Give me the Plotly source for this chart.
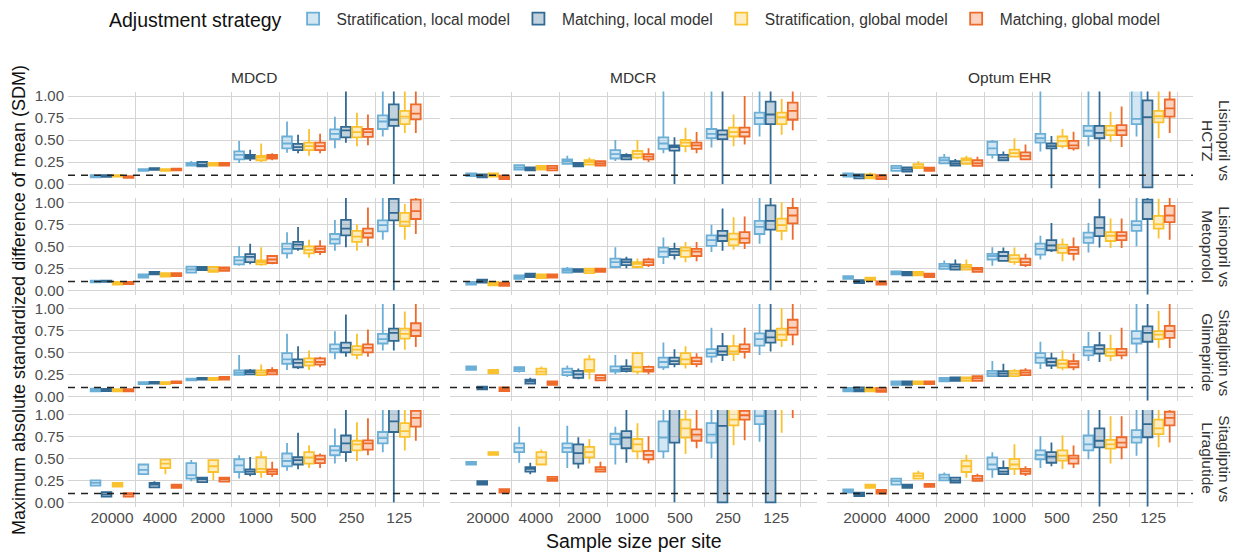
import plotly.graph_objects as go

# ---------------- data ----------------
CATEGORIES = ["20000", "4000", "2000", "1000", "500", "250", "125"]
DATABASES = ["MDCD", "MDCR", "Optum EHR"]
COMPARISONS = [("Lisinopril vs", "HCTZ"), ("Lisinopril vs", "Metoprolol"),
               ("Sitagliptin vs", "Glimepiride"), ("Sitagliptin vs", "Liraglutide")]
STRATEGIES = ["Stratification, local model", "Matching, local model",
              "Stratification, global model", "Matching, global model"]
REFERENCE_SDM = 0.1
Y_TICKS = [0, 0.25, 0.5, 0.75, 1.0]
Y_TICK_LABELS = ["0.00", "0.25", "0.50", "0.75", "1.00"]

# each entry: (lower whisker, q1, median, q3, upper whisker) per sample size
MDCD_HCTZ_SL = [(.07,.075,.09,.10,.105),(.14,.15,.16,.17,.18),(.20,.21,.22,.24,.26),(.24,.28,.33,.37,.49),(.355,.405,.46,.54,.71),(.405,.51,.57,.62,.765),(.54,.625,.71,.78,1.1)]
MDCD_HCTZ_ML = [(.075,.08,.09,.10,.11),(.155,.16,.17,.18,.185),(.19,.20,.22,.25,.26),(.26,.29,.31,.33,.39),(.35,.386,.42,.455,.56),(.47,.53,.61,.65,1.1),(0.0,.66,.73,.905,1.1)]
MDCD_HCTZ_SG = [(.08,.085,.09,.10,.105),(.145,.15,.16,.17,.175),(.20,.21,.23,.24,.245),(.25,.27,.30,.32,.46),(.32,.386,.43,.47,.625),(.43,.53,.59,.65,.81),(.58,.68,.765,.83,1.1)]
MDCD_HCTZ_MG = [(.065,.07,.08,.09,.095),(.15,.155,.165,.175,.18),(.20,.21,.22,.24,.245),(.27,.29,.31,.33,.35),(.35,.386,.43,.47,.57),(.44,.535,.59,.625,.79),(.58,.735,.80,.905,1.1)]

MDCD_METO_SL = [(.085,.09,.10,.11,.115),(.14,.145,.16,.18,.185),(.19,.20,.235,.27,.28),(.28,.295,.34,.38,.50),(.36,.42,.47,.53,.66),(.45,.53,.58,.64,.80),(.575,.67,.74,.795,1.1)]
MDCD_METO_ML = [(.09,.095,.10,.11,.115),(.175,.18,.195,.21,.215),(.22,.23,.245,.265,.27),(.295,.32,.38,.41,.53),(.45,.47,.52,.55,.72),(.49,.625,.70,.80,1.1),(0.0,.795,.88,1.04,1.1)]
MDCD_METO_SG = [(.06,.065,.08,.095,.10),(.15,.155,.175,.195,.20),(.205,.21,.23,.265,.27),(.28,.295,.32,.34,.49),(.37,.42,.46,.50,.575),(.45,.55,.61,.675,.75),(.575,.73,.78,.88,.98)]
MDCD_METO_MG = [(.065,.07,.08,.095,.10),(.155,.16,.175,.195,.20),(.215,.22,.245,.26,.265),(.295,.31,.35,.39,.40),(.40,.435,.47,.50,.57),(.50,.60,.65,.70,.94),(.64,.81,.90,1.03,1.1)]

MDCD_GLIM_SL = [(.055,.057,.07,.087,.09),(.135,.14,.15,.16,.165),(.175,.18,.19,.20,.205),(.24,.245,.27,.295,.47),(.30,.37,.42,.49,.71),(.42,.50,.54,.59,.74),(.52,.60,.65,.71,1.1)]
MDCD_GLIM_ML = [(.055,.06,.07,.085,.09),(.14,.145,.155,.165,.17),(.185,.19,.20,.21,.215),(.24,.25,.275,.295,.31),(.31,.33,.38,.42,.57),(.45,.50,.55,.61,.93),(.52,.63,.72,.77,1.1)]
MDCD_GLIM_SG = [(.05,.055,.065,.08,.085),(.135,.14,.15,.16,.165),(.18,.185,.20,.21,.215),(.24,.24,.27,.295,.36),(.30,.35,.39,.43,.52),(.42,.47,.53,.57,.71),(.53,.655,.71,.77,.965)]
MDCD_GLIM_MG = [(.05,.055,.065,.08,.085),(.145,.15,.16,.17,.175),(.185,.19,.21,.22,.225),(.245,.25,.28,.30,.33),(.33,.36,.39,.43,.45),(.45,.50,.55,.59,.76),(.56,.685,.75,.83,1.1)]

MDCD_LIRA_SL = [(.19,.19,.22,.25,.25),(.32,.32,.37,.43,.43),(.24,.27,.31,.445,.48),(.27,.345,.42,.49,.535),(.36,.41,.47,.555,.675),(.44,.535,.59,.64,.84),(.57,.67,.73,.80,1.1)]
MDCD_LIRA_ML = [(.065,.065,.09,.115,.115),(.17,.17,.20,.22,.24),(.23,.23,.265,.28,.29),(.295,.32,.35,.375,.515),(.375,.43,.48,.515,.79),(.46,.57,.67,.76,1.1),(0.0,.80,.92,1.08,1.1)]
MDCD_LIRA_SG = [(.18,.18,.20,.22,.22),(.32,.39,.44,.485,.485),(.25,.345,.41,.48,.49),(.28,.345,.38,.515,.58),(.39,.44,.51,.57,.65),(.47,.59,.66,.70,.91),(.59,.745,.81,.90,1.1)]
MDCD_LIRA_MG = [(.065,.065,.09,.105,.105),(.165,.165,.185,.20,.20),(.235,.235,.265,.28,.28),(.29,.32,.35,.375,.46),(.39,.445,.49,.53,.555),(.535,.60,.67,.705,.955),(.70,.86,.96,1.04,1.1)]

MDCR_HCTZ_SL = [(.085,.09,.10,.12,.125),(.16,.165,.19,.215,.22),(.22,.23,.26,.28,.32),(.26,.29,.34,.385,.50),(.35,.40,.46,.53,1.1),(.415,.52,.57,.625,1.1),(.54,.68,.75,.81,1.1)]
MDCR_HCTZ_ML = [(.07,.075,.09,.11,.115),(.15,.155,.17,.19,.195),(.195,.20,.22,.24,.245),(.27,.28,.31,.33,.35),(0.0,.38,.42,.44,.53),(0.0,.51,.56,.61,1.1),(0.0,.68,.79,.935,1.1)]
MDCR_HCTZ_SG = [(.08,.083,.10,.12,.125),(.16,.165,.185,.205,.21),(.215,.22,.25,.27,.30),(.28,.30,.34,.375,.50),(.36,.43,.47,.50,.64),(.43,.54,.59,.64,.79),(.56,.68,.76,.81,.97)]
MDCR_HCTZ_MG = [(.05,.057,.075,.095,.10),(.15,.155,.18,.205,.21),(.205,.21,.235,.26,.265),(.25,.28,.31,.34,.405),(.35,.40,.44,.47,.59),(.45,.54,.59,.64,1.0),(.61,.73,.83,.925,1.1)]

MDCR_METO_SL = [(.06,.065,.08,.095,.10),(.125,.13,.15,.17,.175),(.195,.20,.225,.245,.265),(.25,.265,.32,.36,.49),(.30,.38,.44,.485,.60),(.435,.505,.57,.625,.745),(.53,.64,.72,.79,1.1)]
MDCR_METO_ML = [(.08,.087,.105,.12,.125),(.145,.15,.17,.19,.195),(.205,.21,.225,.24,.245),(.25,.285,.32,.35,.38),(.35,.40,.44,.47,.54),(.45,.56,.62,.675,.93),(0.0,.69,.79,.965,1.1)]
MDCR_METO_SG = [(.05,.057,.075,.095,.10),(.135,.14,.16,.18,.185),(.19,.195,.22,.245,.25),(.25,.265,.30,.32,.36),(.32,.38,.45,.485,.55),(.46,.51,.58,.645,.83),(.57,.675,.74,.815,1.0)]
MDCR_METO_MG = [(.045,.05,.07,.087,.09),(.14,.145,.165,.18,.185),(.205,.21,.23,.245,.25),(.265,.285,.32,.35,.37),(.33,.39,.44,.47,.55),(.47,.54,.59,.66,.84),(.575,.76,.85,.935,1.1)]

MDCR_GLIM_SL = [(.30,.30,.32,.34,.34),(.27,.285,.31,.33,.33),(.22,.24,.275,.315,.35),(.25,.28,.30,.34,.47),(.30,.33,.39,.44,.61),(.38,.45,.49,.535,.78),(.47,.575,.65,.715,1.1)]
MDCR_GLIM_ML = [(.08,.08,.095,.11,.11),(.145,.145,.17,.19,.21),(.195,.21,.25,.29,.315),(.27,.285,.31,.34,.42),(.33,.365,.40,.44,.535),(.40,.47,.51,.57,.72),(.51,.61,.67,.745,1.1)]
MDCR_GLIM_SG = [(.26,.26,.28,.30,.30),(.25,.25,.28,.315,.34),(.195,.28,.30,.42,.47),(.25,.28,.33,.49,.505),(.315,.365,.42,.49,.57),(.40,.48,.51,.57,.70),(.56,.64,.70,.77,1.0)]
MDCR_GLIM_MG = [(.06,.06,.08,.10,.10),(.13,.13,.15,.17,.17),(.18,.18,.21,.24,.24),(.25,.28,.30,.335,.35),(.33,.365,.40,.44,.49),(.43,.505,.54,.59,.78),(.58,.70,.78,.87,1.1)]

MDCR_LIRA_SL = [(.43,.43,.445,.46,.46),(.45,.57,.62,.67,.86),(.39,.57,.62,.67,.87),(.43,.66,.72,.78,.86),(.50,.58,.735,.92,1.1),(.50,.68,.77,.90,1.1),(.69,.89,.98,1.08,1.1)]
MDCR_LIRA_ML = [(.20,.20,.22,.24,.24),(.32,.35,.38,.40,.45),(.385,.44,.56,.66,.74),(.45,.615,.735,.81,1.1),(0.0,.68,1.07,1.1,1.15),(0.0,0.0,.87,1.1,1.15),(0.0,0.0,1.07,1.1,1.15)]
MDCR_LIRA_SG = [(.54,.54,.555,.57,.57),(.43,.43,.51,.57,.60),(.44,.51,.57,.63,.72),(.49,.58,.66,.72,.90),(.55,.735,.84,.94,1.1),(.65,.875,.94,1.08,1.1),(.79,1.08,1.12,1.2,1.3)]
MDCR_LIRA_MG = [(.11,.11,.13,.15,.15),(.245,.245,.265,.29,.29),(.345,.35,.375,.40,.46),(.44,.49,.54,.585,.75),(.615,.70,.77,.83,1.1),(.705,.94,.99,1.04,1.1),(.96,1.08,1.12,1.2,1.3)]

OPTUM_HCTZ_SL = [(.08,.083,.10,.12,.125),(.145,.15,.18,.205,.21),(.225,.235,.27,.30,.34),(.29,.33,.405,.48,.50),(.37,.47,.52,.57,1.1),(.43,.545,.605,.66,1.1),(.54,.68,.74,1.08,1.1)]
OPTUM_HCTZ_ML = [(.06,.065,.09,.11,.115),(.135,.14,.165,.19,.195),(.20,.21,.235,.26,.285),(.26,.27,.30,.33,.37),(-0.05,.405,.43,.46,.545),(-0.05,.52,.58,.66,1.1),(-0.05,-0.04,.76,.95,1.1)]
OPTUM_HCTZ_SG = [(.06,.065,.085,.11,.13),(.175,.18,.20,.225,.26),(.22,.23,.27,.29,.32),(.30,.31,.35,.39,.52),(.405,.43,.49,.54,.625),(.48,.555,.61,.66,.82),(.52,.70,.77,.83,1.1)]
OPTUM_HCTZ_MG = [(.05,.057,.08,.10,.105),(.145,.15,.17,.185,.19),(.20,.205,.235,.27,.31),(.27,.28,.32,.36,.45),(.38,.405,.44,.49,.595),(.42,.555,.61,.67,.88),(.58,.765,.86,.96,1.1)]

OPTUM_METO_SL = [(.125,.13,.145,.16,.165),(.175,.18,.20,.215,.22),(.24,.245,.275,.30,.34),(.28,.35,.39,.415,.49),(.35,.405,.47,.53,.62),(.43,.54,.60,.655,.765),(.50,.675,.74,.785,1.1)]
OPTUM_METO_ML = [(.08,.083,.10,.115,.12),(.165,.17,.19,.21,.215),(.23,.235,.27,.295,.35),(.33,.335,.39,.435,.485),(.435,.455,.51,.57,.765),(.485,.615,.71,.83,1.04),(-0.05,.81,1.0,1.03,1.1)]
OPTUM_METO_SG = [(.11,.115,.13,.145,.15),(.165,.17,.19,.21,.215),(.23,.235,.265,.29,.35),(.29,.32,.36,.40,.485),(.33,.425,.48,.52,.59),(.48,.56,.62,.66,.815),(.59,.70,.75,.845,1.04)]
OPTUM_METO_MG = [(.06,.065,.08,.10,.105),(.145,.15,.17,.19,.195),(.205,.21,.235,.255,.26),(.265,.285,.32,.36,.415),(.34,.415,.46,.49,.60),(.48,.57,.62,.66,.815),(.575,.775,.85,.96,1.1)]

OPTUM_GLIM_SL = [(.05,.057,.075,.095,.10),(.125,.13,.15,.17,.175),(.165,.17,.19,.21,.215),(.22,.23,.26,.29,.40),(.31,.38,.44,.49,.62),(.40,.465,.52,.56,.73),(.49,.60,.655,.74,1.1)]
OPTUM_GLIM_ML = [(.05,.057,.075,.10,.105),(.125,.13,.15,.17,.175),(.17,.175,.195,.215,.22),(.22,.23,.26,.285,.37),(.31,.35,.39,.43,.495),(.39,.485,.54,.58,.73),(-0.05,.62,.72,.795,1.1)]
OPTUM_GLIM_SG = [(.05,.057,.075,.095,.10),(.135,.14,.155,.17,.175),(.17,.175,.20,.215,.22),(.225,.23,.26,.29,.31),(.295,.325,.37,.41,.52),(.40,.46,.50,.54,.70),(.55,.65,.70,.74,.97)]
OPTUM_GLIM_MG = [(.045,.05,.07,.095,.10),(.135,.14,.155,.17,.175),(.17,.175,.205,.23,.235),(.23,.24,.27,.295,.32),(.295,.33,.37,.40,.485),(.42,.465,.50,.54,.78),(.55,.665,.74,.80,1.1)]

OPTUM_LIRA_SL = [(.109,.109,.13,.146,.146),(.20,.20,.24,.27,.27),(.25,.25,.28,.315,.34),(.28,.375,.43,.51,.57),(.39,.49,.54,.59,.75),(.49,.59,.66,.76,1.1),(.53,.68,.74,.82,1.1)]
OPTUM_LIRA_ML = [(.071,.071,.09,.109,.109),(.165,.165,.185,.20,.20),(.22,.225,.25,.28,.28),(.31,.32,.35,.39,.475),(.41,.45,.52,.57,.68),(-0.05,.625,.70,.84,1.1),(-0.05,.74,.89,1.08,1.1)]
OPTUM_LIRA_SG = [(.165,.165,.18,.20,.20),(.27,.27,.30,.33,.36),(.28,.345,.41,.475,.54),(.31,.38,.43,.495,.66),(.38,.475,.53,.59,.76),(.44,.61,.66,.71,.98),(.625,.775,.84,.94,1.1)]
OPTUM_LIRA_MG = [(.10,.10,.12,.14,.14),(.175,.175,.195,.21,.21),(.245,.245,.27,.30,.325),(.30,.325,.355,.38,.41),(.39,.44,.50,.53,.645),(.49,.625,.68,.74,.98),(.68,.875,.96,1.03,1.1)]

# rows = comparisons, columns = databases, inner order = STRATEGIES
PANELS = [
    [[MDCD_HCTZ_SL, MDCD_HCTZ_ML, MDCD_HCTZ_SG, MDCD_HCTZ_MG],
     [MDCR_HCTZ_SL, MDCR_HCTZ_ML, MDCR_HCTZ_SG, MDCR_HCTZ_MG],
     [OPTUM_HCTZ_SL, OPTUM_HCTZ_ML, OPTUM_HCTZ_SG, OPTUM_HCTZ_MG]],
    [[MDCD_METO_SL, MDCD_METO_ML, MDCD_METO_SG, MDCD_METO_MG],
     [MDCR_METO_SL, MDCR_METO_ML, MDCR_METO_SG, MDCR_METO_MG],
     [OPTUM_METO_SL, OPTUM_METO_ML, OPTUM_METO_SG, OPTUM_METO_MG]],
    [[MDCD_GLIM_SL, MDCD_GLIM_ML, MDCD_GLIM_SG, MDCD_GLIM_MG],
     [MDCR_GLIM_SL, MDCR_GLIM_ML, MDCR_GLIM_SG, MDCR_GLIM_MG],
     [OPTUM_GLIM_SL, OPTUM_GLIM_ML, OPTUM_GLIM_SG, OPTUM_GLIM_MG]],
    [[MDCD_LIRA_SL, MDCD_LIRA_ML, MDCD_LIRA_SG, MDCD_LIRA_MG],
     [MDCR_LIRA_SL, MDCR_LIRA_ML, MDCR_LIRA_SG, MDCR_LIRA_MG],
     [OPTUM_LIRA_SL, OPTUM_LIRA_ML, OPTUM_LIRA_SG, OPTUM_LIRA_MG]],
]

# ---------------- styling ----------------
LINE_COLORS = ["#6BAED6", "#336A93", "#F9C22E", "#EE6A2B"]
FILL_COLORS = ["rgba(107,174,214,0.3)", "rgba(51,106,147,0.3)",
               "rgba(249,194,46,0.3)", "rgba(238,106,43,0.3)"]
PAGE_OFFSET = 8          # the browser's default body margin
FIG_W, FIG_H = 1239 - PAGE_OFFSET, 556 - PAGE_OFFSET
FONT = "Liberation Sans, Arial, sans-serif"
GRID = "#d4d4d4"
TICK_COLOR = "#4d4d4d"


def fx(px):  # page x pixel -> paper fraction
    return (px - PAGE_OFFSET) / FIG_W


def fy(px):  # page y pixel -> paper fraction
    return 1 - (px - PAGE_OFFSET) / FIG_H


COL_PX = [(68, 440), (450, 817), (827, 1193)]
COL_RANGE = [(-0.92, 6.85), (-0.785, 6.85), (-0.785, 6.83)]
ROW_PX = [(91.6, 188.4), (197.9, 294.7), (303.9, 400.7), (410.0, 506.7)]

fig = go.Figure()
layout = {}
shapes = []
annotations = []
x_pos = list(range(len(CATEGORIES)))
boundaries = [i + 0.5 for i in range(len(CATEGORIES))]

for r in range(4):
    for c in range(3):
        n = r * 3 + c + 1
        xa = "x" if n == 1 else f"x{n}"
        ya = "y" if n == 1 else f"y{n}"
        for s, series in enumerate(PANELS[r][c]):
            fig.add_trace(go.Box(
                x=x_pos,
                lowerfence=[v[0] for v in series],
                q1=[v[1] for v in series],
                median=[v[2] for v in series],
                q3=[v[3] for v in series],
                upperfence=[v[4] for v in series],
                name=STRATEGIES[s], legendgroup=STRATEGIES[s],
                showlegend=(n == 1), offsetgroup=str(s),
                line=dict(color=LINE_COLORS[s], width=1.8),
                fillcolor=FILL_COLORS[s], whiskerwidth=0,
                boxpoints=False, hoverinfo="skip",
                xaxis=xa, yaxis=ya,
            ))
        x0, x1 = COL_PX[c]
        ytop, ybot = ROW_PX[r]
        layout["xaxis" if n == 1 else f"xaxis{n}"] = dict(
            domain=[fx(x0), fx(x1)], anchor=ya, range=list(COL_RANGE[c]),
            tickmode="array", tickvals=x_pos, ticktext=CATEGORIES,
            showticklabels=(r == 3), ticks="", showgrid=False, zeroline=False,
            showline=False, tickfont=dict(size=15.5, color=TICK_COLOR, family=FONT),
            minor=dict(tickmode="array", tickvals=boundaries, showgrid=True,
                       gridcolor=GRID, gridwidth=1.2, ticks=""),
            fixedrange=True, automargin=False,
        )
        layout["yaxis" if n == 1 else f"yaxis{n}"] = dict(
            domain=[fy(ybot), fy(ytop)], anchor=xa, range=[-0.05, 1.05],
            tickmode="array", tickvals=Y_TICKS, ticktext=Y_TICK_LABELS,
            showticklabels=(c == 0), ticks="", showgrid=True, gridcolor=GRID,
            gridwidth=1.2, zeroline=False, showline=False, ticklabelstandoff=3,
            tickfont=dict(size=15, color=TICK_COLOR, family=FONT), fixedrange=True,
            automargin=False,
        )
        shapes.append(dict(type="line", xref=f"{xa} domain", x0=0, x1=1,
                           yref=ya, y0=REFERENCE_SDM, y1=REFERENCE_SDM,
                           line=dict(color="#222222", width=1.6, dash="7px,6px"),
                           layer="above"))

for c, db in enumerate(DATABASES):
    annotations.append(dict(text=db, x=fx((COL_PX[c][0] + COL_PX[c][1]) / 2),
                            y=fy(77.5), xref="paper", yref="paper",
                            xanchor="center", yanchor="middle", showarrow=False,
                            font=dict(size=15.5, color="#333333", family=FONT)))
for r, (line1, line2) in enumerate(COMPARISONS):
    yc = fy((ROW_PX[r][0] + ROW_PX[r][1]) / 2)
    for text, xpx in ((line1, 1225), (line2, 1208)):
        annotations.append(dict(text=text, x=fx(xpx), y=yc, xref="paper", yref="paper",
                                xanchor="center", yanchor="middle", textangle=90,
                                showarrow=False,
                                font=dict(size=15.5, color="#333333", family=FONT)))
annotations.append(dict(text="Maximum absolute standardized difference of mean (SDM)",
                        x=fx(19), y=fy(300), xref="paper", yref="paper",
                        xanchor="center", yanchor="middle",
                        textangle=-90, showarrow=False,
                        font=dict(size=18, color="#111111", family=FONT)))
annotations.append(dict(text="Sample size per site", x=fx(634), y=fy(541),
                        xref="paper", yref="paper", xanchor="center", yanchor="middle",
                        showarrow=False,
                        font=dict(size=19.5, color="#111111", family=FONT)))

fig.update_layout(
    width=FIG_W, height=FIG_H, margin=dict(l=0, r=0, t=0, b=0, autoexpand=False),
    paper_bgcolor="white", plot_bgcolor="white",
    font=dict(family=FONT, color="#333333"),
    boxmode="group", boxgap=0.08, boxgroupgap=0.12,
    shapes=shapes, annotations=annotations,
    legend=dict(orientation="h", x=fx(107), y=fy(20), xanchor="left", yanchor="middle",
                title=dict(text="Adjustment strategy", side="left",
                           font=dict(size=19.5, color="#111111", family=FONT)),
                font=dict(size=15.6, color="#333333", family=FONT),
                itemwidth=37, traceorder="normal"),
    **layout,
)

fig.write_html("out.html")
